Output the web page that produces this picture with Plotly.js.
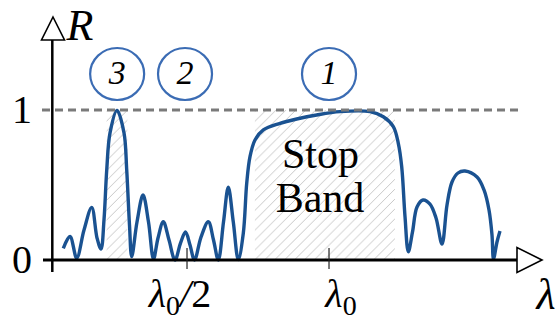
<!DOCTYPE html>
<html><head><meta charset="utf-8">
<script src="https://cdn.plot.ly/plotly-3.0.1.min.js"></script>
<style>
html,body{margin:0;padding:0;background:#fff;overflow:hidden}
#chart{width:557px;height:327px}
</style>
</head><body>
<div id="chart"></div>
<script>
// wavelength (in units of lambda0) and reflectance R
const lambda = [0.0644,0.0880,0.1116,0.1373,0.1644,0.1831,0.1972,0.2077,0.2173,0.2289,0.2535,0.2782,0.2877,0.2975,0.3053,
  0.3239,0.3451,0.3644,0.3820,0.3979,0.4165,0.4366,0.4577,0.4771,0.4947,0.5106,0.5264,0.5493,0.5750,0.5933,0.6102,
  0.6285,0.6454,0.6630,0.6806,0.6982,0.7102,0.7218,0.7394,0.7687,0.8275,0.8863,0.9567,1.0387,1.1444,1.1912,1.2264,
  1.2440,1.2560,1.2676,1.2792,1.2940,1.3099,1.3310,1.3556,1.3768,1.3979,1.4155,1.4331,1.4542,1.4789,1.5211,1.5458,
  1.5634,1.5739,1.5792,1.5915,1.6021];
const R = [0.078,0.157,0.013,0.200,0.351,0.147,0.073,0.267,0.600,0.847,0.997,0.847,0.600,0.233,0.023,
  0.253,0.433,0.253,0.007,0.147,0.255,0.133,0.000,0.113,0.187,0.100,0.000,0.153,0.255,0.133,0.000,
  0.253,0.485,0.253,0.003,0.178,0.511,0.689,0.800,0.867,0.911,0.940,0.967,0.989,0.989,0.955,0.889,
  0.778,0.622,0.289,0.055,0.187,0.353,0.400,0.373,0.280,0.107,0.367,0.520,0.580,0.593,0.553,0.467,
  0.333,0.167,0.007,0.120,0.193];
const stopBand = [0.739, 1.232];
const peak3Band = [0.217, 0.290];
const orderLabels = ['1','2','3'];
const orderX = [1.0, 0.493, 0.254];
const yTickVals = [0, 1];
const yTickText = ['0', '1'];
const xTickVals = [0.5, 1.0];
const xTickText = ['<i>λ</i><sub>0</sub><i>/</i>2', '<i>λ</i><sub>0</sub>'];

const W = 557, H = 327;
const X0 = -0.1585, X1 = 1.8028, Y0 = -0.4467, Y1 = 1.7333;
const dx = px => X0 + (X1 - X0) * px / W;
const dy = py => Y1 - (Y1 - Y0) * py / H;
const kx = (X1 - X0) / W, ky = (Y1 - Y0) / H;
const fam = 'Liberation Serif';

function hatch(b) {
  return {x:[b[0],b[1],b[1],b[0],b[0]], y:[0,0,1,1,0], mode:'none', fill:'toself',
    fillcolor:'rgba(0,0,0,0)', hoverinfo:'skip', showlegend:false,
    fillpattern:{shape:'/', size:7, solidity:0.12, fgcolor:'#bdbdbd', bgcolor:'rgba(255,255,255,0)'}};
}
function label(xs, ys, texts, size) {
  return {x:xs, y:ys, text:texts, mode:'text', textposition:'middle center', cliponaxis:false,
    textfont:{family:fam, size:size, color:'#000'}, hoverinfo:'skip', showlegend:false};
}

const traces = [
  hatch(peak3Band), hatch(stopBand),
  {x:lambda, y:R, mode:'lines', line:{color:'#1a5291', width:3.4, shape:'spline', smoothing:1}, showlegend:false, hoverinfo:'skip'},
  label(yTickVals.map(() => dx(22)), yTickVals.map(v => v - 3*ky), yTickText, 40),
  label([dx(180), dx(341)], [dy(297), dy(297)], xTickText, 40),
  label(orderX, orderX.map(() => dy(75)), orderLabels.map(s => '<i>' + s + '</i>'), 34),
  label([dx(80)], [dy(29)], ['<i>R</i>'], 44),
  label([dx(546)], [dy(298)], ['<i>λ</i>'], 44),
  label([dx(320.5), dx(320)], [dy(157), dy(201)], ['Stop', 'Band'], 42)
];

const shapes = [
  {type:'line', x0:dx(42), x1:dx(522), y0:1, y1:1, line:{color:'#7a7a7a', width:3, dash:'8px,5px'}},
  {type:'line', x0:dx(52.3), x1:dx(52.3), y0:dy(40), y1:dy(272), line:{color:'#000', width:2.5}},
  {type:'line', x0:dx(43), x1:dx(517), y0:0, y1:0, line:{color:'#000', width:2.8}},
  {type:'path', path:`M ${dx(53)},${dy(17)} L ${dx(64.5)},${dy(40)} L ${dx(41.5)},${dy(40)} Z`, fillcolor:'#fff', line:{color:'#000', width:1.6}},
  {type:'path', path:`M ${dx(542)},0 L ${dx(517)},${dy(247.5)} L ${dx(517)},${dy(272.5)} Z`, fillcolor:'#fff', line:{color:'#000', width:1.6}}
];
xTickVals.forEach(v => shapes.push({type:'line', x0:v, x1:v, y0:dy(248), y1:dy(269), line:{color:'#222', width:1.2}}));
orderX.forEach(v => shapes.push({type:'circle', x0:v-27*kx, x1:v+27*kx, y0:dy(74)-26*ky, y1:dy(74)+26*ky, line:{color:'#3b6cb4', width:2.2}}));

const layout = {
  width:W, height:H, margin:{l:0,r:0,t:0,b:0}, paper_bgcolor:'#fff', plot_bgcolor:'#fff',
  font:{family:fam, color:'#000'},
  xaxis:{range:[X0,X1], visible:false, fixedrange:true},
  yaxis:{range:[Y0,Y1], visible:false, fixedrange:true},
  shapes:shapes, showlegend:false
};
Plotly.newPlot('chart', traces, layout, {staticPlot:true, displayModeBar:false});
</script></body></html>
